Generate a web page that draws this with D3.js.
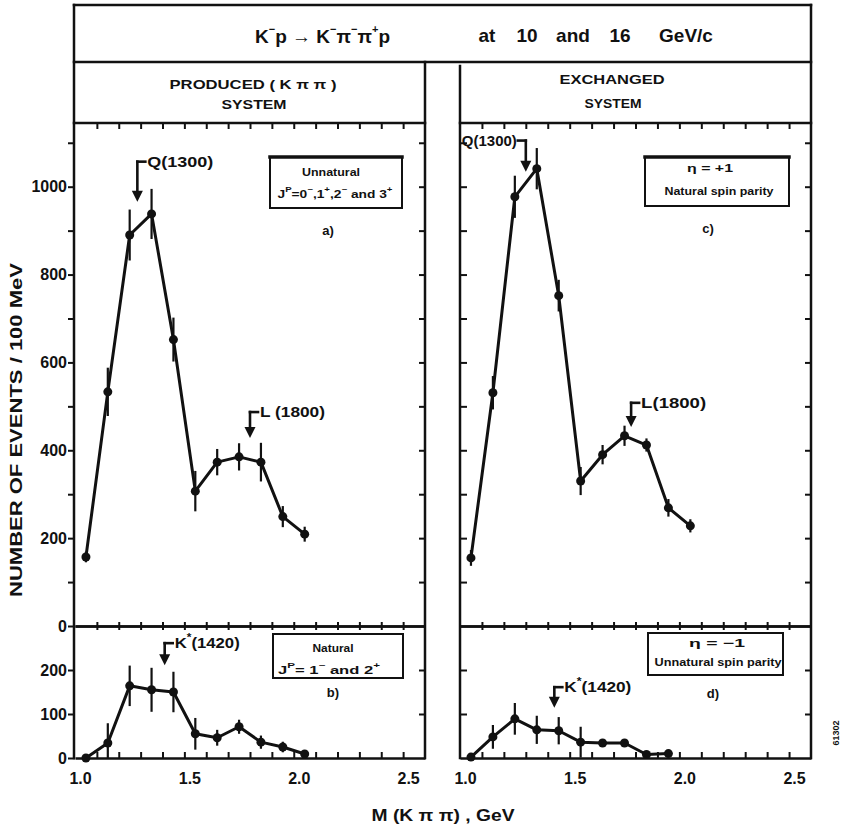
<!DOCTYPE html>
<html><head><meta charset="utf-8">
<script src="https://cdn.jsdelivr.net/npm/d3@7/dist/d3.min.js"></script>
<style>
body{margin:0;background:#fff}
text{font-family:"Liberation Sans",Arial,sans-serif;font-weight:bold;fill:#111}
</style>
</head><body><svg id="c" width="845" height="827"></svg>
<script>
// ---------------- data ----------------
const massBins   = [1.05,1.15,1.25,1.35,1.45,1.55,1.65,1.75,1.85,1.95,2.05];
const countsA    = [157,533,890,938,652,307,373,385,373,249,209];   // produced, unnatural
const errA       = [12,55,58,57,50,46,30,31,44,24,17];
const countsB    = [0,34,164,155,150,55,46,71,36,25,9];             // produced, natural
const errB       = [5,45,46,50,46,36,18,16,15,12,8];
const countsC    = [155,531,977,1041,752,330,390,433,412,269,228];  // exchanged, natural
const errC       = [18,38,48,47,36,32,22,23,15,20,15];
const massBinsD  = [1.05,1.15,1.25,1.35,1.45,1.55,1.65,1.75,1.85,1.95];
const countsD    = [2,48,89,64,62,36,34,34,8,10];                   // exchanged, unnatural
const errD       = [4,27,36,32,31,35,8,8,5,5];
const xTickLabels      = [1.0,1.5,2.0,2.5];
const xMinorTicks      = [1.1,1.2,1.3,1.4,1.5,1.6,1.7,1.8,1.9,2.0,2.1,2.2,2.3,2.4,2.5];
const yTickLabelsTop   = [0,200,400,600,800,1000];
const yTicksTop        = [100,200,300,400,500,600,700,800,900,1000,1100];
const yTickLabelsBot   = [0,100,200];
const annotations = [
  {panel:"A", mass:1.285, tip:966,  top:1057, label:"Q(1300)",  side:"right", len:66},
  {panel:"A", mass:1.80,  tip:428,  top:487,  label:"L (1800)", side:"right", len:65},
  {panel:"C", mass:1.30,  tip:1034, top:1105, label:"Q(1300)",  side:"left",  len:55},
  {panel:"C", mass:1.78,  tip:453,  top:508,  label:"L(1800)",  side:"right", len:65},
  {panel:"B", mass:1.41,  tip:211,  top:261,  label:"K*(1420)", side:"right", len:65},
  {panel:"D", mass:1.43,  tip:114,  top:161,  label:"K*(1420)", side:"right", len:67}
];

// ---------------- layout ----------------
const svg = d3.select("#c");
svg.append("rect").attr("width",845).attr("height",827).attr("fill","#fff");

const xL = d3.scaleLinear([1.0,2.6],[75,425]);
const xR = d3.scaleLinear([1.0,2.6],[460,811]);
const yTop = d3.scaleLinear([0,1145],[626,123]);
const yBot = d3.scaleLinear([0,300],[758,626]);

const ink = "#111";
function line(x1,y1,x2,y2,w){
  svg.append("line").attr("x1",x1).attr("y1",y1).attr("x2",x2).attr("y2",y2)
    .attr("stroke",ink).attr("stroke-width",w||2.2).attr("stroke-linecap","square");
}
function txt(x,y,s,size,opts){
  opts=opts||{};
  const t = svg.append("text").attr("x",x).attr("y",y).attr("font-size",size)
    .attr("text-anchor",opts.anchor||"middle").attr("dominant-baseline","central");
  if(opts.len) t.attr("textLength",opts.len).attr("lengthAdjust","spacingAndGlyphs");
  t.text(s);
  return t;
}

// frames
line(74,5,811,5,2.5);
line(74,62,811,62,2.5);
line(74,5,74,758,2.5);
line(811,5,811,758,2.5);
line(425,62,425,758,2.5);
line(460,66,460,758,2.5);
line(74,123,425,123,2.5);
line(460,123,811,123,2.5);

// title
const t1 = svg.append("text").attr("x",255).attr("y",36).attr("font-size",19)
  .attr("dominant-baseline","central");
let raised = false;
function part(s,sup){
  const ts = t1.append("tspan").text(s);
  if(sup && !raised){ ts.attr("dy",-7).attr("font-size",11); raised = true; }
  else if(sup){ ts.attr("font-size",11); }
  else if(raised){ ts.attr("dy",7).attr("font-size",19); raised = false; }
  else ts.attr("font-size",19);
}
part("K"); part("\u2212",1); part("p"); part("  \u2192  "); part("K"); part("\u2212",1);
part("\u03c0"); part("\u2212",1); part("\u03c0"); part("+",1); part("p");
txt(487,35,"at",19); txt(527,35,"10",19); txt(573,35,"and",19); txt(620,35,"16",19); txt(686,35,"GeV/c",19);

// panel headers
txt(253,85,"PRODUCED ( K \u03c0 \u03c0 )",12.5,{len:167});
txt(254,105,"SYSTEM",12.5,{len:65});
txt(612,80,"EXCHANGED",12.5,{len:105});
txt(613,104,"SYSTEM",12.5,{len:57});

// ---------------- axes ----------------
function styleAxis(g){
  g.selectAll(".domain").attr("stroke",ink).attr("stroke-width",2.5);
  g.selectAll(".tick line").attr("stroke",ink).attr("stroke-width",2);
  g.selectAll(".tick text").attr("font-size",16).attr("fill",ink)
    .attr("font-family","'Liberation Sans',Arial,sans-serif").attr("font-weight","bold");
}
function panelAxes(x, yT, yB, withLabels){
  const x0 = x.range()[0], x1 = x.range()[1];
  svg.append("g").attr("transform","translate(0,123)")
    .call(d3.axisBottom(x).tickValues(xMinorTicks).tickSize(6).tickSizeOuter(0).tickFormat(""))
    .call(styleAxis).call(g=>g.select(".domain").remove());
  svg.append("g").attr("transform","translate(0,626)")
    .call(d3.axisBottom(x).tickValues(xMinorTicks).tickSize(4).tickSizeOuter(0).tickFormat(""))
    .call(styleAxis);
  svg.append("g").attr("transform","translate(0,626)")
    .call(d3.axisTop(x).tickValues(xMinorTicks).tickSize(4).tickSizeOuter(0).tickFormat(""))
    .call(styleAxis);
  svg.append("g").attr("transform","translate(0,758)")
    .call(d3.axisTop(x).tickValues(xMinorTicks).tickSize(6).tickSizeOuter(0).tickFormat(""))
    .call(styleAxis);
  svg.append("g").attr("transform","translate(5,758)")
    .call(d3.axisBottom(x).tickValues(xTickLabels).tickSize(0).tickPadding(15).tickFormat(d3.format(".1f")))
    .call(styleAxis).call(g=>g.select(".domain").remove());
  svg.append("g").attr("transform",`translate(${x1},0)`)
    .call(d3.axisRight(yT).tickValues(yTicksTop).tickSize(-6).tickSizeOuter(0).tickFormat(""))
    .call(styleAxis).call(g=>g.select(".domain").remove());
  svg.append("g").attr("transform",`translate(${x1},0)`)
    .call(d3.axisRight(yB).tickValues([100,200]).tickSize(-6).tickSizeOuter(0).tickFormat(""))
    .call(styleAxis).call(g=>g.select(".domain").remove());
  if(withLabels){
    svg.append("g").attr("transform",`translate(${x0},0)`)
      .call(d3.axisLeft(yT).tickValues(yTicksTop).tickSize(7).tickSizeOuter(0).tickPadding(1)
        .tickFormat(d => yTickLabelsTop.includes(d) ? d : ""))
      .call(styleAxis).call(g=>g.select(".domain").remove());
    svg.append("g").attr("transform",`translate(${x0},0)`)
      .call(d3.axisLeft(yT).tickValues([0]).tickSize(7).tickSizeOuter(0).tickPadding(1))
      .call(styleAxis).call(g=>g.select(".domain").remove());
    svg.append("g").attr("transform",`translate(${x0},0)`)
      .call(d3.axisLeft(yB).tickValues(yTickLabelsBot).tickSize(7).tickSizeOuter(0).tickPadding(1))
      .call(styleAxis).call(g=>g.select(".domain").remove());
  } else {
    svg.append("g").attr("transform",`translate(${x0},0)`)
      .call(d3.axisRight(yT).tickValues(yTicksTop).tickSize(7).tickSizeOuter(0).tickFormat(""))
      .call(styleAxis).call(g=>g.select(".domain").remove());
    svg.append("g").attr("transform",`translate(${x0},0)`)
      .call(d3.axisRight(yB).tickValues([100,200]).tickSize(7).tickSizeOuter(0).tickFormat(""))
      .call(styleAxis).call(g=>g.select(".domain").remove());
  }
}
panelAxes(xL,yTop,yBot,true);
panelAxes(xR,yTop,yBot,false);

// ---------------- data series ----------------
function series(x,y,ms,vals,errs){
  const pts = ms.map((m,i)=>({m,v:vals[i],e:errs[i]}));
  const g = svg.append("g");
  g.append("path").datum(pts)
    .attr("d", d3.line().x(d=>x(d.m)).y(d=>y(d.v)))
    .attr("fill","none").attr("stroke",ink).attr("stroke-width",3).attr("stroke-linejoin","round");
  g.selectAll("line.err").data(pts).join("line")
    .attr("x1",d=>x(d.m)).attr("x2",d=>x(d.m))
    .attr("y1",d=>y(Math.max(0,d.v-d.e))).attr("y2",d=>y(d.v+d.e))
    .attr("stroke",ink).attr("stroke-width",2.2);
  g.selectAll("circle").data(pts).join("circle")
    .attr("cx",d=>x(d.m)).attr("cy",d=>y(d.v)).attr("r",4.5).attr("fill",ink);
}
series(xL,yTop,massBins,countsA,errA);
series(xL,yBot,massBins,countsB,errB);
series(xR,yTop,massBins,countsC,errC);
series(xR,yBot,massBinsD,countsD,errD);

// ---------------- annotations ----------------
const panels = {A:[xL,yTop],B:[xL,yBot],C:[xR,yTop],D:[xR,yBot]};
annotations.forEach(a=>{
  const [x,y] = panels[a.panel];
  const px = x(a.mass), yt = y(a.tip), ytop = y(a.top);
  line(px, ytop, px, yt-9, 2.6);
  svg.append("path").attr("d",`M${px-5.5},${yt-11}L${px+5.5},${yt-11}L${px},${yt}Z`).attr("fill",ink);
  const h = a.side==="right" ? 8 : -8;
  line(px, ytop, px+h, ytop, 2.6);
  const t = svg.append("text").attr("x",px+h+(a.side==="right"?2:-1)).attr("y",ytop)
    .attr("font-size",14).attr("dominant-baseline","central")
    .attr("text-anchor",a.side==="right"?"start":"end")
    .attr("textLength",a.len).attr("lengthAdjust","spacingAndGlyphs");
  if(a.label.startsWith("K*")){
    t.append("tspan").text("K");
    t.append("tspan").text("*").attr("font-size",10).attr("dy",-6);
    t.append("tspan").text(a.label.slice(2)).attr("dy",6);
  } else t.text(a.label);
});

// ---------------- legend boxes ----------------
function box(x0,y0,x1,y1,thickTop){
  svg.append("rect").attr("x",x0).attr("y",y0).attr("width",x1-x0).attr("height",y1-y0)
    .attr("fill","none").attr("stroke",ink).attr("stroke-width",2);
  if(thickTop) line(x0,y0,x1,y0,3.5);
}
function jp(x,y,parts,len,size){
  const t = svg.append("text").attr("x",x).attr("y",y).attr("font-size",size||10)
    .attr("text-anchor","middle").attr("dominant-baseline","central")
    .attr("textLength",len).attr("lengthAdjust","spacingAndGlyphs");
  parts.forEach(p=>{
    const ts = t.append("tspan").text(p[0]);
    if(p[1]) ts.attr("dy",p[1]);
    if(p[2]) ts.attr("font-size",p[2]);
  });
}
box(270,157,402,208,true);
txt(331,172,"Unnatural",10,{len:58});
jp(335,194,[["J"],["P",-5,7],["=0",5],["\u2212",-5,7],[",1",5],["+",-5,7],[",2",5],["\u2212",-5,7],[" and 3",5],["+",-5,7]],115);
txt(328,230,"a)",13);
box(273,634,403,678,false);
txt(333,648,"Natural",10,{len:41});
jp(329,670,[["J"],["P",-5,7],["= 1",5],["\u2212",-5,7],["  and  2",5],["+",-5,7]],102);
txt(333,692,"b)",13);
box(645,157,789,206,true);
txt(710,168,"\u03b7  =  +1",11,{len:46});
txt(719,191,"Natural  spin  parity",10,{len:109});
txt(708,228,"c)",13);
box(648,633,783,675,false);
txt(717,643,"\u03b7  =  \u22121",11,{len:56});
txt(718,662,"Unnatural  spin  parity",10,{len:127});
txt(713,693,"d)",13);

// ---------------- axis titles ----------------
txt(0,0,"NUMBER OF EVENTS / 100 MeV",16,{len:334}).attr("transform","translate(16,430) rotate(-90)");
svg.append("text").attr("x",443).attr("y",815).attr("font-size",16)
  .attr("text-anchor","middle").attr("dominant-baseline","central")
  .attr("textLength",143).attr("lengthAdjust","spacingAndGlyphs")
  .text("M (K \u03c0 \u03c0) , GeV");
txt(0,0,"61302",9).attr("transform","translate(836,733) rotate(-90)");
</script></body></html>
